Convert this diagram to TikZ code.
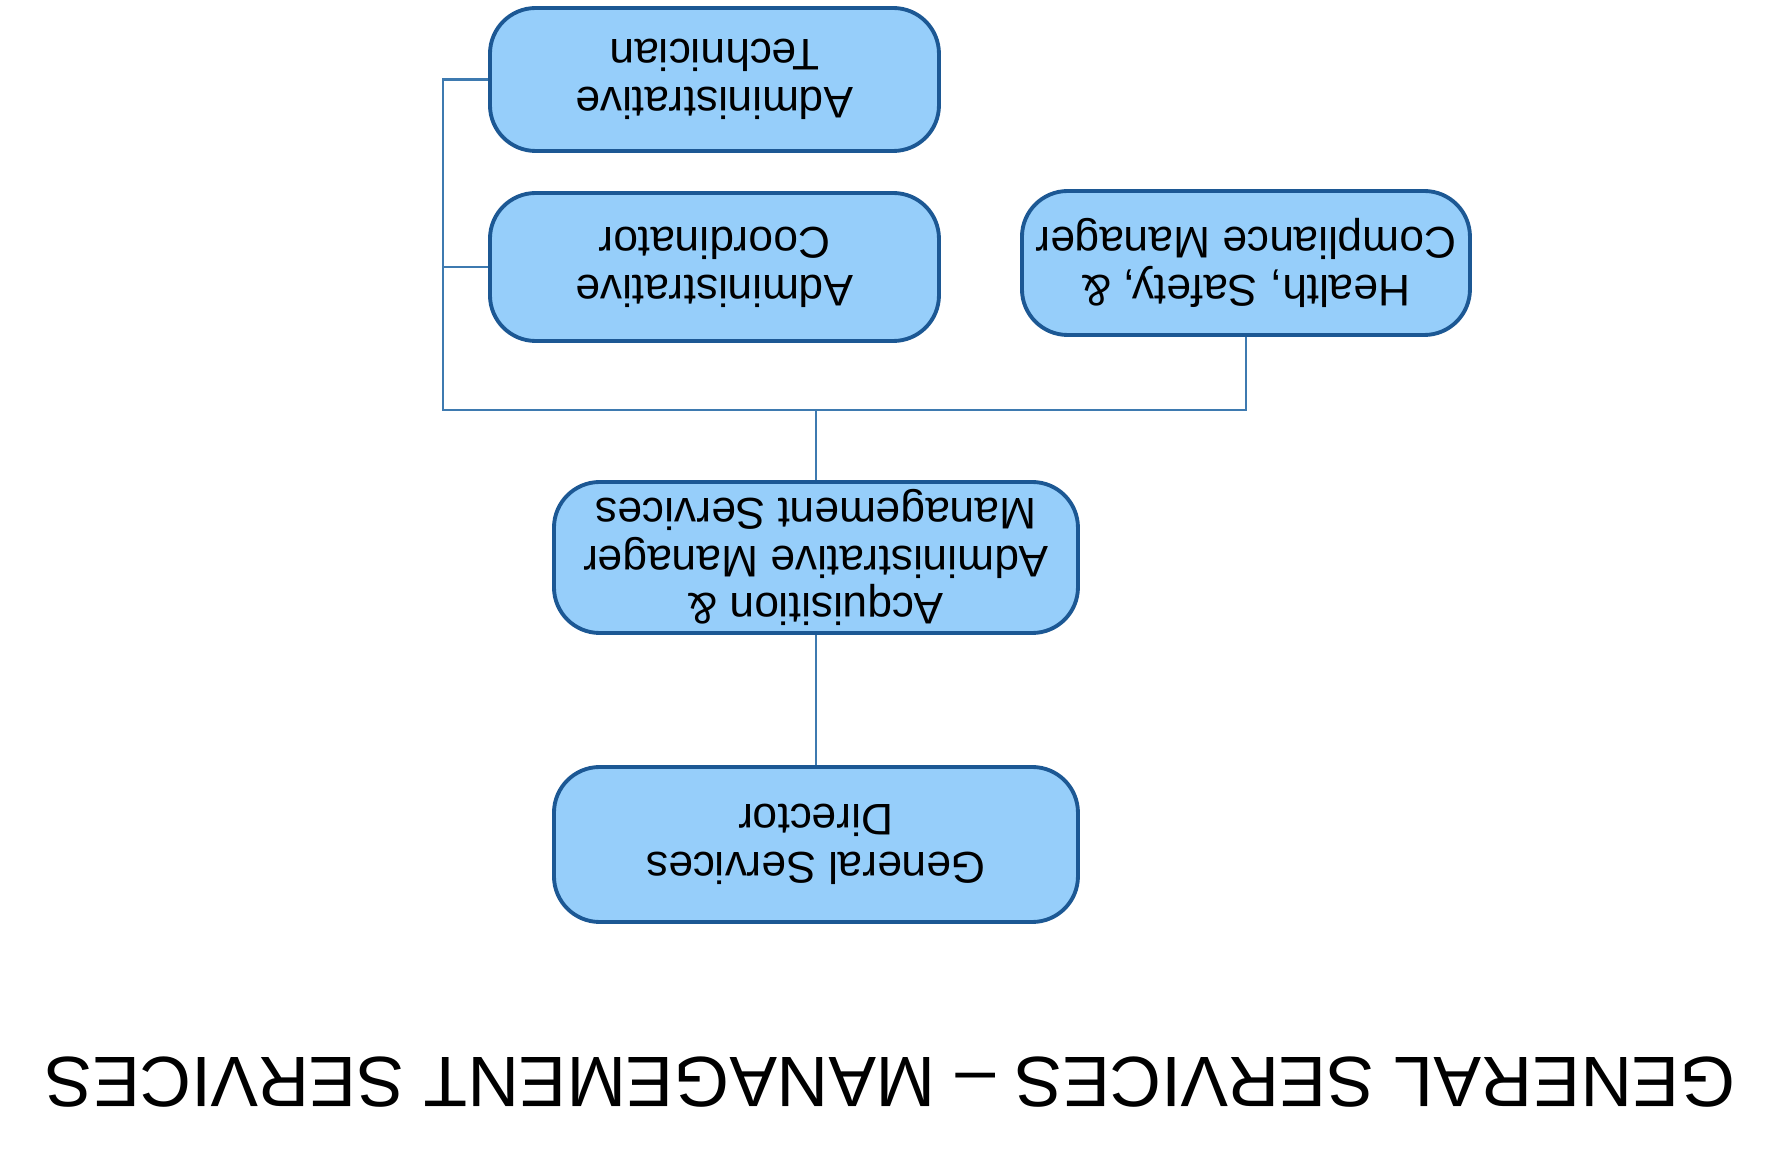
\documentclass[tikz,border=0pt]{standalone}
\usepackage{fontspec}
\setmainfont{Liberation Sans}
\usetikzlibrary{positioning, calc}
\definecolor{boxfill}{RGB}{150,206,250}
\definecolor{boxedge}{RGB}{28,88,148}
\definecolor{linkblue}{RGB}{62,122,176}

\begin{document}
\begin{tikzpicture}[
  rotate=180, transform shape,
  orgbox/.style={draw=boxedge, fill=boxfill, line width=1.1pt,
    rounded corners=13pt, align=center, inner sep=0pt,
    font=\fontsize{12.6}{13.6}\selectfont},
  link/.style={linkblue, line width=0.7pt},
]

\useasboundingbox (0,0) rectangle (17.8,-11.54);

% Title
\node[font=\fontsize{20.3}{24}\selectfont] (title) at (8.90,-0.72)
  {GENERAL SERVICES -- MANAGEMENT SERVICES};

% ========================================
% Boxes
% ========================================
\node[orgbox, minimum width=5.24cm, minimum height=1.55cm] (gsd) at (9.64,-3.095)
  {General Services\\Director};
\node[orgbox, minimum width=5.24cm, minimum height=1.51cm] (acq) at (9.64,-5.965)
  {Acquisition \&\\Administrative Manager\\Management Services};
\node[orgbox, minimum width=4.48cm, minimum height=1.44cm] (hsc) at (5.34,-8.91)
  {Health, Safety, \&\\Compliance Manager};
\node[orgbox, minimum width=4.49cm, minimum height=1.48cm] (coord) at (10.655,-8.87)
  {Administrative\\Coordinator};
\node[orgbox, minimum width=4.49cm, minimum height=1.43cm] (tech) at (10.655,-10.745)
  {Administrative\\Technician};

% ========================================
% Connectors
% ========================================
\coordinate (bus) at (9.64,-7.44);
\coordinate (rail) at (13.37,-7.44);

\draw[link] (gsd) -- (acq);
\draw[link] (acq) -- (bus);
\draw[link] (hsc.north) |- (rail) |- (tech.east);
\draw[link] (coord.east) -| (rail);

\end{tikzpicture}
\end{document}
